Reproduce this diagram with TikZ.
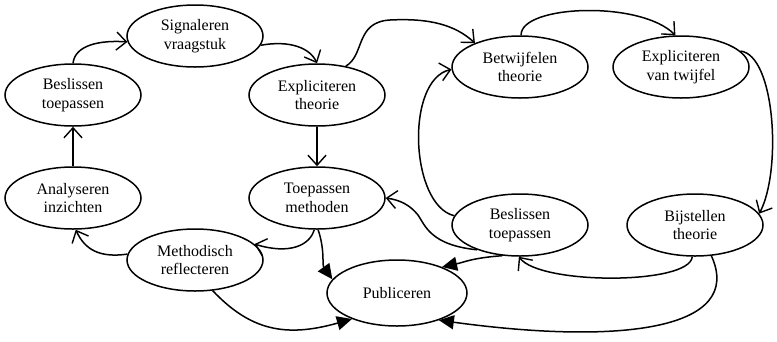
\documentclass[tikz,border=0pt]{standalone}
\usepackage{fontspec}
\setmainfont{Liberation Serif}
\usetikzlibrary{shapes.geometric,arrows.meta}
\begin{document}
\begin{tikzpicture}[x=1pt,y=-1pt,line width=1.5pt,
  st/.style={ellipse,draw,line width=1.5pt,inner sep=0pt,minimum width=136pt,minimum height=62pt,align=center,font=\fontsize{16}{18.5}\selectfont},
  op/.style={-{Straight Barb[length=10pt,width=18pt,line width=1.4pt]}},
  fl/.style={-{Triangle[length=15pt,width=14pt]}}]
\useasboundingbox (0,0) rectangle (777,341);
\node[st] (sig) at (195,36) {Signaleren\\vraagstuk};
\node[st] (bl)  at (73,95) {Beslissen\\toepassen};
\node[st] (et)  at (317,95) {Expliciteren\\theorie};
\node[st] (ai)  at (73,198) {Analyseren\\inzichten};
\node[st] (tm)  at (317,198) {Toepassen\\methoden};
\node[st] (mr)  at (195,260) {Methodisch\\reflecteren};
\node[st,minimum width=140pt,minimum height=66pt] (pub) at (397,293) {Publiceren};
\node[st] (bt)  at (520,67) {Betwijfelen\\theorie};
\node[st] (evt) at (681,67) {Expliciteren\\van twijfel};
\node[st] (br)  at (520,225) {Beslissen\\toepassen};
\node[st] (bij) at (695,225) {Bijstellen\\theorie};
% left cycle
\draw[op] (bl.north) .. controls (75,45) and (100,40) .. (sig.185);
\draw[op] (sig.-8) .. controls (290,40) and (310,48) .. (et.north);
\draw[op] (et.south) -- (tm.north);
\draw[op] (et.45) .. controls (365,55) and (355,22) .. (390,20) .. controls (430,18) and (455,25) .. (bt.152);
\draw[op] (tm.-95) .. controls (310,245) and (290,255) .. (mr.15);
\draw[fl] (tm.-88) .. controls (325,250) and (322,265) .. (pub.168);
\draw[op] (mr.175) .. controls (100,258) and (85,250) .. (ai.-85);
\draw[op] (ai.north) -- (bl.south);
\draw[fl] (mr.-60) .. controls (250,330) and (285,338) .. (pub.-150);
% right cycle
\draw[op] (bt.88) .. controls (520,5) and (640,0) .. (evt.100);
\draw[op] (evt.15) .. controls (775,55) and (782,170) .. (bij.10);
\draw[op] (bij.-95) .. controls (690,285) and (540,285) .. (br.-92);
\draw[op] (br.172) .. controls (410,205) and (405,80) .. (bt.182);
\draw[op] (br.-150) .. controls (430,245) and (425,225) .. (418,215) .. controls (410,205) and (400,200) .. (tm.east);
\draw[fl] (br.-120) .. controls (472,258) and (465,262) .. (pub.30);
\draw[fl] (bij.-62) .. controls (745,330) and (620,345) .. (pub.-33);
\end{tikzpicture}
\end{document}
